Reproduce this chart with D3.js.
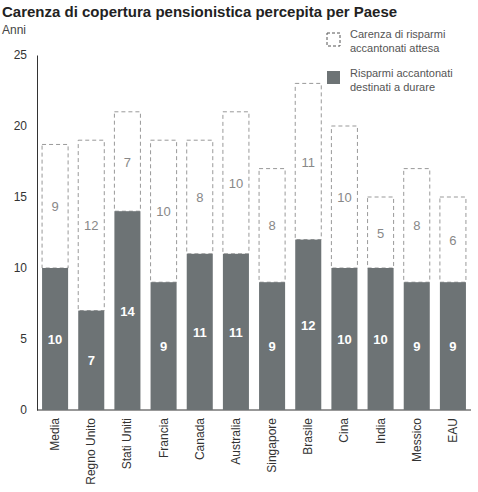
<!DOCTYPE html><html><head><meta charset="utf-8">
<script src="https://cdn.jsdelivr.net/npm/d3@7"></script>
<style>body{margin:0;background:#fff;font-family:"Liberation Sans",Arial,sans-serif}</style></head><body>
<svg id="c" width="478" height="492"></svg>
<script>
const categories=["Media","Regno Unito","Stati Uniti","Francia","Canada","Australia","Singapore","Brasile","Cina","India","Messico","EAU"];
const saved=[10,7,14,9,11,11,9,12,10,10,9,9];
const gap=[8.7,12,7,10,8,10,8,11,10,5,8,6];
const gapLabels=[9,12,7,10,8,10,8,11,10,5,8,6];
const yTicks=[0,5,10,15,20,25];
const svg=d3.select("#c");
const x=d3.scaleBand().domain(categories).range([37,471]).paddingInner(0.28).paddingOuter(0.14);
const y=d3.scaleLinear().domain([0,25]).range([410,55]);
svg.append("text").attr("x",2).attr("y",17).attr("font-size",15).attr("font-weight","bold").attr("fill","#222").text("Carenza di copertura pensionistica percepita per Paese");
svg.append("text").attr("x",2).attr("y",34).attr("font-size",12).attr("fill","#444").text("Anni");
const ax=svg.append("g").attr("transform","translate(37,0)").call(d3.axisLeft(y).tickValues(yTicks).tickSize(0).tickPadding(10));
ax.select(".domain").attr("stroke","#333");
ax.selectAll("text").attr("font-size",12).attr("fill","#333").attr("font-family","Liberation Sans");
svg.append("line").attr("x1",37).attr("x2",471).attr("y1",410).attr("y2",410).attr("stroke","#333");
const g=svg.append("g");
categories.forEach((c,i)=>{
  const bx=x(c),bw=x.bandwidth();
  g.append("rect").attr("x",bx).attr("width",bw).attr("y",y(saved[i]+gap[i])).attr("height",y(saved[i])-y(saved[i]+gap[i]))
   .attr("fill","#fff").attr("stroke","#999").attr("stroke-dasharray","4,3");
  g.append("rect").attr("x",bx).attr("width",bw).attr("y",y(saved[i])).attr("height",y(0)-y(saved[i])).attr("fill","#6d7375");
  g.append("text").attr("x",bx+bw/2).attr("y",(y(saved[i])+y(0))/2+5).attr("text-anchor","middle").attr("font-size",13).attr("font-weight","bold").attr("fill","#fff").text(saved[i]);
  g.append("text").attr("x",bx+bw/2).attr("y",(y(saved[i])+y(saved[i]+gap[i]))/2+5).attr("text-anchor","middle").attr("font-size",13).attr("fill","#888").text(gapLabels[i]);
  g.append("text").attr("transform",`translate(${bx+bw/2+4},418) rotate(-90)`).attr("text-anchor","end").attr("font-size",12).attr("fill","#333").text(c);
});
svg.append("rect").attr("x",327).attr("y",33).attr("width",13).attr("height",13).attr("fill","#fff").attr("stroke","#555").attr("stroke-dasharray","3,2");
svg.append("rect").attr("x",327).attr("y",71).attr("width",13).attr("height",13).attr("fill","#6d7375");
[["Carenza di risparmi",38],["accantonati attesa",52],["Risparmi accantonati",77],["destinati a durare",91]].forEach(([t,yy])=>
  svg.append("text").attr("x",350).attr("y",yy).attr("font-size",11).attr("fill","#555").text(t));
</script></body></html>
